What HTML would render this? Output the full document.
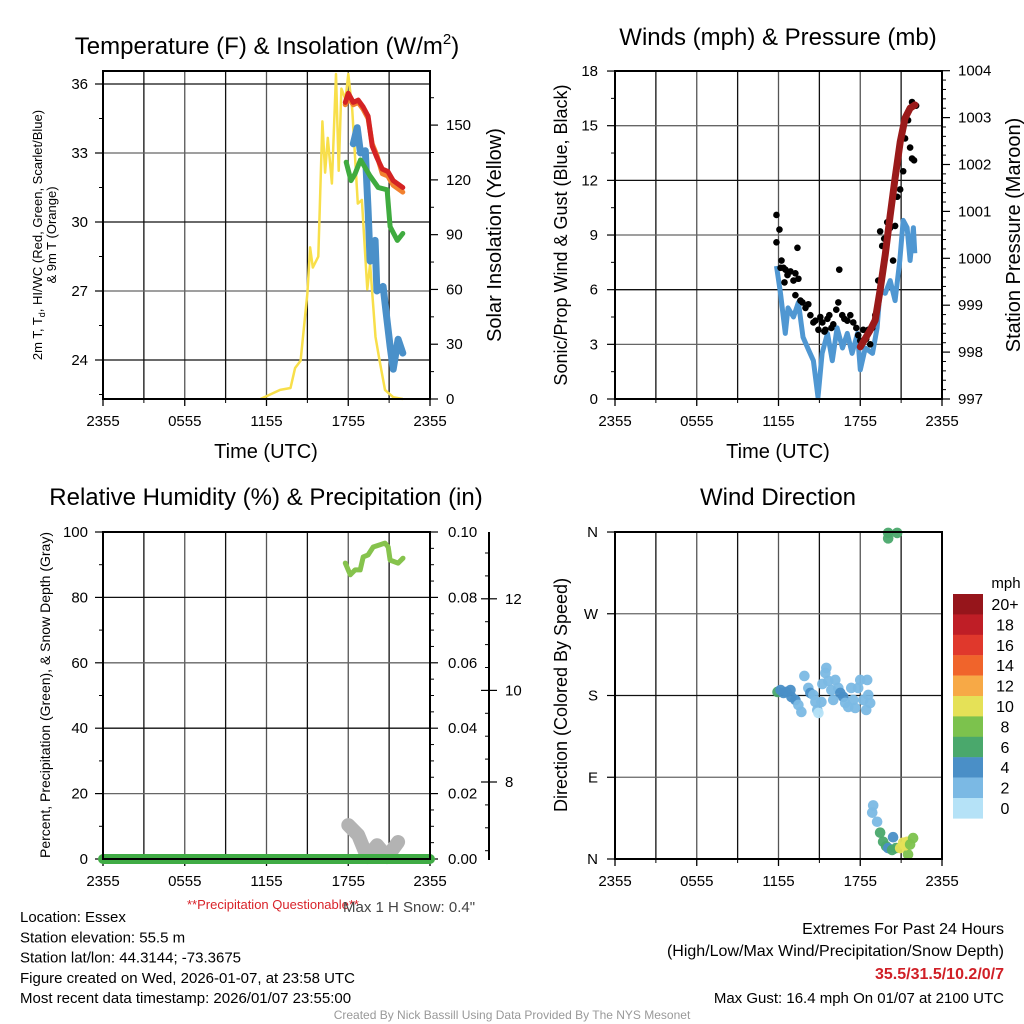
<!DOCTYPE html>
<html><head><meta charset="utf-8"><style>
html,body{margin:0;padding:0;background:#fff}
svg{display:block;font-family:"Liberation Sans",Arial,sans-serif}
</style></head><body>
<svg id="fig" width="1024" height="1024" viewBox="0 0 1024 1024" xmlns="http://www.w3.org/2000/svg">
<rect width="1024" height="1024" fill="#fff"/>
<g id="layer"></g>
</svg>
<script>
// ---- data (time in hours since 2355 previous day) ----
const xTickLabels = ["2355","0555","1155","1755","2355"];
const insolT = [11.56,13.0,13.76,14.1,14.5,15.0,15.2,15.4,15.8,16.1,16.3,16.5,16.8,17.1,17.3,17.5,17.8,18.0,18.3,18.7,19.0,19.4,19.6,20.0,20.3,20.7,21.3,22.0];
const insolV = [0,5,6,17,21,58,83,72,78,152,124,143,118,178,125,170,164,178,158,107,109,60,74,34,21,5,1,0];
const tempT = [17.78,18.0,18.37,18.73,19.1,19.46,19.76,20.1,20.5,20.9,21.3,22.0];
const tempV = [35.2,35.6,35.2,35.3,35.0,34.6,33.3,32.8,32.3,32.2,31.8,31.5];
const temp9V = [35.1,35.4,35.1,35.2,34.9,34.5,33.4,32.9,32.1,32.0,31.6,31.3];
const dewT = [17.85,18.2,18.5,18.9,19.6,20.2,20.85,21.07,21.6,22.0];
const dewV = [32.6,31.8,32.1,32.7,32.0,31.5,31.4,29.8,29.2,29.5];
const wcT = [18.37,18.66,18.9,19.25,19.46,19.6,19.97,20.1,20.56,20.85,21.07,21.3,21.66,22.0];
const wcV = [33.4,34.1,33.0,33.1,30.5,28.3,29.2,27.0,27.2,25.7,24.6,23.6,24.9,24.3];
const windT = [11.85,12.15,12.5,12.7,13.1,13.46,13.8,14.2,14.56,14.9,15.2,15.6,15.95,16.3,16.7,17.05,17.4,17.8,18.0,18.37,18.9,19.24,19.46,19.83,20.2,20.56,20.9,21.15,21.44,21.66,21.9,22.0];
const windV = [7.3,5.8,3.6,5.0,4.5,5.3,3.4,2.7,2.1,0.1,2.5,3.6,2.1,3.9,2.8,3.6,2.5,3.6,1.6,2.8,2.5,3.9,6.0,5.8,6.5,5.4,7.6,9.8,9.4,7.6,9.4,8.0];
const gustT = [11.85,11.85,12.07,12.22,12.15,12.37,12.44,12.51,12.66,12.88,13.1,13.24,13.39,13.46,13.24,13.61,13.76,13.98,14.19,14.34,14.56,14.71,14.93,15.07,15.22,15.37,15.44,15.59,15.73,15.88,16.02,16.24,16.39,16.46,16.68,16.83,17.05,17.27,17.49,17.71,17.85,18.0,18.22,18.44,18.59,18.73,18.88,19.1,19.32,19.46,19.61,19.76,19.98,20.2,20.41,20.56,20.71,20.93,21.15,21.29,21.51,21.66,21.8,21.95,21.8,22.1];
const gustV = [8.6,10.1,9.3,7.6,7.2,7.2,6.4,7.1,6.8,7.0,6.5,6.9,8.3,6.6,5.7,5.4,5.3,5.0,5.2,4.6,4.2,4.3,3.8,4.5,4.2,3.7,3.8,4.4,4.6,3.9,4.1,4.9,5.3,7.1,4.6,4.4,4.3,4.6,4.2,3.9,3.5,3.2,3.8,3.3,3.8,3.0,3.9,4.6,6.5,9.2,8.4,8.8,9.7,9.4,7.6,9.5,11.1,11.5,12.5,14.3,15.3,13.8,13.2,13.1,16.3,16.1];
const presT = [18.0,18.73,19.1,19.46,19.83,20.2,20.56,20.93,21.29,21.66,22.02];
const presV = [998.11,998.47,998.68,999.32,1000.07,1000.92,1001.71,1002.48,1002.99,1003.2,1003.27];
const rhT = [17.78,18.15,18.5,18.88,19.1,19.46,19.83,20.7,20.93,21.07,21.66,22.02];
const rhV = [90.5,86.9,88.4,88.4,92.4,93.0,95.4,96.6,95.4,91.4,90.5,92.0];
const precipT = [0,24];
const precipV = [0,0];
const snowT = [18.0,18.73,19.39,20.12,20.85,21.66];
const snowV = [7.06,6.84,6.36,6.62,6.36,6.69];
const dirT = [11.93,12.15,12.37,12.59,12.88,12.95,13.24,13.46,13.68,13.9,14.19,14.34,14.56,14.71,14.85,14.93,15.15,15.22,15.44,15.51,15.66,15.88,16.02,16.17,16.39,16.54,16.76,16.9,17.12,17.34,17.49,17.63,17.85,18.0,18.22,18.44,18.51,18.59,18.73,18.95,18.88,19.24,19.46,19.68,19.9,20.05,20.41,20.34,20.63,20.93,21.15,21.44,21.88,21.51,21.29,21.66,20.05,20.05,20.71];
const dirV = [183.9,186,182.8,183.9,186,178.4,175.1,169.6,161.9,201.5,188.3,182.8,180.6,172.9,164.1,160.8,172.9,192.7,204.8,210.4,196,186,175.1,197.1,188.3,182.8,178.4,171.8,167.4,188.3,175.1,166.3,188.3,197.1,175.1,164.1,197.1,180.6,171.8,59,51,41,29,19,14,12,24,10,12,12,18,19,23,5,15,16,359,353,359];
const dirS = [6.5,4.5,4.5,4.5,4.5,4.5,4.5,2.5,2.5,2.5,2.5,4.5,2.5,2.5,2.5,1,2.5,2.5,2.5,2.5,2.5,2.5,2.5,2.5,2.5,4.5,4.5,2.5,2.5,2.5,2.5,2.5,2.5,2.5,2.5,2.5,2.5,2.5,2.5,3,3,3,7,7,7,5,5,7,7,11,11,11,9,9,11,9,7,7,7];
const speedBins = ["0","2","4","6","8","10","12","14","16","18","20+"];
const binColors = ["#b5e2f7","#7bb9e4","#4a8fc7","#4aa86c","#7cc24d","#e5e157","#f7a946","#f0642b","#e0382c","#bf1e26","#96151b"];

const NS="http://www.w3.org/2000/svg";
const L=document.getElementById('layer');
function el(tag,attrs,parent){const e=document.createElementNS(NS,tag);for(const k in attrs)e.setAttribute(k,attrs[k]);(parent||L).appendChild(e);return e;}
function txt(s,x,y,size,anchor,fill,extra){const e=el('text',Object.assign({x:x,y:y,'font-size':size,'text-anchor':anchor||'start',fill:fill||'#000'},extra||{}));e.textContent=s;return e;}
function lin(t,v,sx,sy){return t.map((q,i)=>(i?'L':'M')+sx(q).toFixed(1)+','+sy(v[i]).toFixed(1)).join('');}

function panel(x0,y0,x1,y1,name){
  const g=el('g',{});
  
  
  const sx=t=>x0+(x1-x0)*t/24;
  for(let h=3;h<24;h+=3){const l=el('line',{x1:sx(h),x2:sx(h),y1:y0,y2:y1,stroke:h%6==0?'#555':'#111','stroke-width':1.3},g);
    
    }
  xTickLabels.forEach((s,i)=>{const x=sx(i*6);
    el('line',{x1:x,x2:x,y1:y1,y2:y1+7,stroke:'#000','stroke-width':1.3},g);
    const tl=txt(s,x,y1+27,15,'middle');
    
    });
  for(let h=3;h<24;h+=6){el('line',{x1:sx(h),x2:sx(h),y1:y1,y2:y1+4,stroke:'#000','stroke-width':1},g);}
  return {g,sx};
}
function frame(x0,y0,x1,y1,name){const r=el('rect',{x:x0,y:y0,width:x1-x0,height:y1-y0,fill:'none',stroke:'#000','stroke-width':2});
  
  }
function yAxis(g,x,ticks,sy,labels,side,minor,lx,grid,x1){
  ticks.forEach((v,i)=>{const y=sy(v);
    if(grid)el('line',{x1:x,x2:x1,y1:y,y2:y,stroke:i%2?'#666':'#111','stroke-width':1.3},g);
    el('line',{x1:x,x2:x+(side<0?-8:8),y1:y,y2:y,stroke:'#000','stroke-width':1.2},g);
    const t=txt(labels[i],lx,y+5,15,side<0?'end':'start');
    
    });
  minor.forEach(v=>{const y=sy(v);el('line',{x1:x,x2:x+(side<0?-4:4),y1:y,y2:y,stroke:'#000','stroke-width':1},g);});
}

// ===== Panel 1: Temperature =====
{const x0=103,y0=71,x1=430,y1=399;
 const {g,sx}=panel(x0,y0,x1,y1,'temperature-panel');
 const sy=v=>360-(v-24)*23;
 const sr=v=>399-v*1.826;
 yAxis(g,x0,[24,27,30,33,36],sy,["24","27","30","33","36"],-1,[22.5,25.5,28.5,31.5,34.5],88,true,x1);
 yAxis(g,x1,[0,30,60,90,120,150],sr,["0","30","60","90","120","150"],1,[15,45,75,105,135,165],446,false);
 const ins=el('path',{d:lin(insolT,insolV,sx,sr),fill:'none',stroke:'#f8df4a','stroke-width':2.5,'stroke-linejoin':'round'});
 
 
 const wc=el('path',{d:lin(wcT,wcV,sx,sy),fill:'none',stroke:'#4a90c9','stroke-width':7,'stroke-linejoin':'round','stroke-linecap':'round'});
 
 
 const dw=el('path',{d:lin(dewT,dewV,sx,sy),fill:'none',stroke:'#3fab3f','stroke-width':5,'stroke-linejoin':'round','stroke-linecap':'round'});
 
 
 const t9=el('path',{d:lin(tempT,temp9V,sx,sy),fill:'none',stroke:'#f2812f','stroke-width':5,'stroke-linejoin':'round','stroke-linecap':'round'});
 
 
 const t2=el('path',{d:lin(tempT,tempV,sx,sy),fill:'none',stroke:'#d42323','stroke-width':5,'stroke-linejoin':'round','stroke-linecap':'round'});
 
 
 frame(x0,y0,x1,y1,'temperature-frame');
 const tt=el('text',{x:267,y:54,'font-size':24,'text-anchor':'middle'});tt.innerHTML='Temperature (F) &amp; Insolation (W/m<tspan dy="-10" font-size="15">2</tspan><tspan dy="10">)</tspan>';
 
 
 const xl=txt('Time (UTC)',266,458,20,'middle');
 const y1t=el('text',{x:0,y:0,'font-size':13,'text-anchor':'middle',transform:'translate(42,235) rotate(-90)'});y1t.innerHTML='2m T, T<tspan dy="3" font-size="9">d</tspan><tspan dy="-3">, HI/WC (Red, Green, Scarlet/Blue)</tspan>';
 
 const y2t=txt('& 9m T (Orange)',0,0,13,'middle','#000',{transform:'translate(56,235) rotate(-90)'});
 const yr=txt('Solar Insolation (Yellow)',0,0,20,'middle','#000',{transform:'translate(501,235) rotate(-90)'});
}
// ===== Panel 2: Winds =====
{const x0=615,y0=71,x1=942,y1=399;
 const {g,sx}=panel(x0,y0,x1,y1,'winds-panel');
 const sy=v=>399-v*18.22;
 const sp=v=>399-(v-997)*46.9;
 yAxis(g,x0,[0,3,6,9,12,15,18],sy,["0","3","6","9","12","15","18"],-1,[1.5,4.5,7.5,10.5,13.5,16.5],598,true,x1);
 const pm=[];for(let p=997.2;p<1004;p+=0.2){if(Math.abs(p-Math.round(p))>0.05)pm.push(p);}
 yAxis(g,x1,[997,998,999,1000,1001,1002,1003,1004],sp,["997","998","999","1000","1001","1002","1003","1004"],1,pm,958,false);
 const w=el('path',{d:lin(windT,windV,sx,sy),fill:'none',stroke:'#4f97d2','stroke-width':5,'stroke-linejoin':'round'});
 
 gustT.forEach((t,i)=>{const c=el('circle',{cx:sx(t),cy:sy(gustV[i]),r:3.3,fill:'#000'});
   
   });
 const p=el('path',{d:lin(presT,presV,sx,sp),fill:'none',stroke:'#9a1a1a','stroke-width':7,'stroke-linejoin':'round','stroke-linecap':'round'});
 
 frame(x0,y0,x1,y1,'winds-frame');
 const tt=txt('Winds (mph) & Pressure (mb)',778,45,24,'middle');
 const xl=txt('Time (UTC)',778,458,20,'middle');
 const yl=txt('Sonic/Prop Wind & Gust (Blue, Black)',0,0,18,'middle','#000',{transform:'translate(567,235) rotate(-90)'});
 const yr=txt('Station Pressure (Maroon)',0,0,20,'middle','#000',{transform:'translate(1020,235) rotate(-90)'});
}
// ===== Panel 3: RH & precip =====
{const x0=103,y0=532,x1=430,y1=859;
 const {g,sx}=panel(x0,y0,x1,y1,'humidity-panel');
 const sy=v=>859-v*3.27;
 const spr=v=>859-v*3270;
 const ss=v=>782-(v-8)*45.8;
 yAxis(g,x0,[0,20,40,60,80,100],sy,["0","20","40","60","80","100"],-1,[10,30,50,70,90],88,true,x1);
 yAxis(g,x1,[0,0.02,0.04,0.06,0.08,0.1],spr,["0.00","0.02","0.04","0.06","0.08","0.10"],1,[0.005,0.01,0.015,0.025,0.03,0.035,0.045,0.05,0.055,0.065,0.07,0.075,0.085,0.09,0.095],448,false);
 const ax=el('line',{x1:489,x2:489,y1:532,y2:860,stroke:'#000','stroke-width':2});
 const sm=[];for(let v=6.5;v<13.5;v+=0.5){if(v%2!=0)sm.push(v);}
 yAxis(g,489,[8,10,12],ss,["8","10","12"],1,[],505,false);
 sm.forEach(v=>el('line',{x1:489,x2:485,y1:ss(v),y2:ss(v),stroke:'#000','stroke-width':1},g));
 [8,10,12].forEach(v=>el('line',{x1:481,x2:489,y1:ss(v),y2:ss(v),stroke:'#000','stroke-width':1.2},g));
 const sn=el('path',{d:lin(snowT,snowV,sx,ss),fill:'none',stroke:'#b3b3b3','stroke-width':14,'stroke-linejoin':'round','stroke-linecap':'round'});
 
 const pr=el('path',{d:lin(precipT,precipV,sx,spr),fill:'none',stroke:'#40ac45','stroke-width':10,'stroke-linecap':'round'});
 
 const rh=el('path',{d:lin(rhT,rhV,sx,sy),fill:'none',stroke:'#86c34d','stroke-width':5,'stroke-linejoin':'round','stroke-linecap':'round'});
 
 frame(x0,y0,x1,y1,'humidity-frame');
 const tt=txt('Relative Humidity (%) & Precipitation (in)',266,505,24,'middle');
 const yl=txt('Percent, Precipitation (Green), & Snow Depth (Gray)',0,0,14,'middle','#000',{transform:'translate(50,695) rotate(-90)'});
}
// ===== Panel 4: Wind direction =====
{const x0=615,y0=532,x1=942,y1=859;
 const {g,sx}=panel(x0,y0,x1,y1,'wind-direction-panel');
 const sy=v=>859-v*0.9083;
 yAxis(g,x0,[0,90,180,270,360],sy,["N","E","S","W","N"],-1,[],598,true,x1);
 const binOf=s=>Math.min(10,Math.floor(s/2));
 dirT.forEach((t,i)=>{const c=el('circle',{cx:sx(t),cy:sy(dirV[i]),r:5.3,fill:binColors[binOf(dirS[i])],opacity:0.95});
   
   });
 frame(x0,y0,x1,y1,'wind-direction-frame');
 const tt=txt('Wind Direction',778,505,24,'middle');
 const yl=txt('Direction (Colored By Speed)',0,0,18,'middle','#000',{transform:'translate(567,695) rotate(-90)'});
 const mu=txt('mph',1006,588,15,'middle');
 speedBins.forEach((s,i)=>{const k=10-i;const y=594+i*20.4;
   const r=el('rect',{x:953,y:y,width:30,height:20.6,fill:binColors[k]});
   
   
   const t=txt(speedBins[k],1005,y+16,16,'middle');
   
   });
}
// ===== footer text =====
const left=["Location: Essex","Station elevation: 55.5 m","Station lat/lon: 44.3144; -73.3675","Figure created on Wed, 2026-01-07, at 23:58 UTC","Most recent data timestamp: 2026/01/07 23:55:00"];
left.forEach((s,i)=>{const t=txt(s,20,922+i*20.3,15);});
{const t=txt('**Precipitation Questionable**',187,909,13,'start','#d8232a');}
{const t=txt('Max 1 H Snow: 0.4"',343,912,15,'start','#444');}
{const t=txt('Extremes For Past 24 Hours',1004,934,16,'end');}
{const t=txt('(High/Low/Max Wind/Precipitation/Snow Depth)',1004,956,16,'end');}
{const t=txt('35.5/31.5/10.2/0/7',1004,979,16,'end','#d01f26',{'font-weight':'bold'});}
{const t=txt('Max Gust: 16.4 mph On 01/07 at 2100 UTC',1004,1003,15,'end');}
{const t=txt('Created By Nick Bassill Using Data Provided By The NYS Mesonet',512,1019,12,'middle','#999');}
</script>
</body></html>
